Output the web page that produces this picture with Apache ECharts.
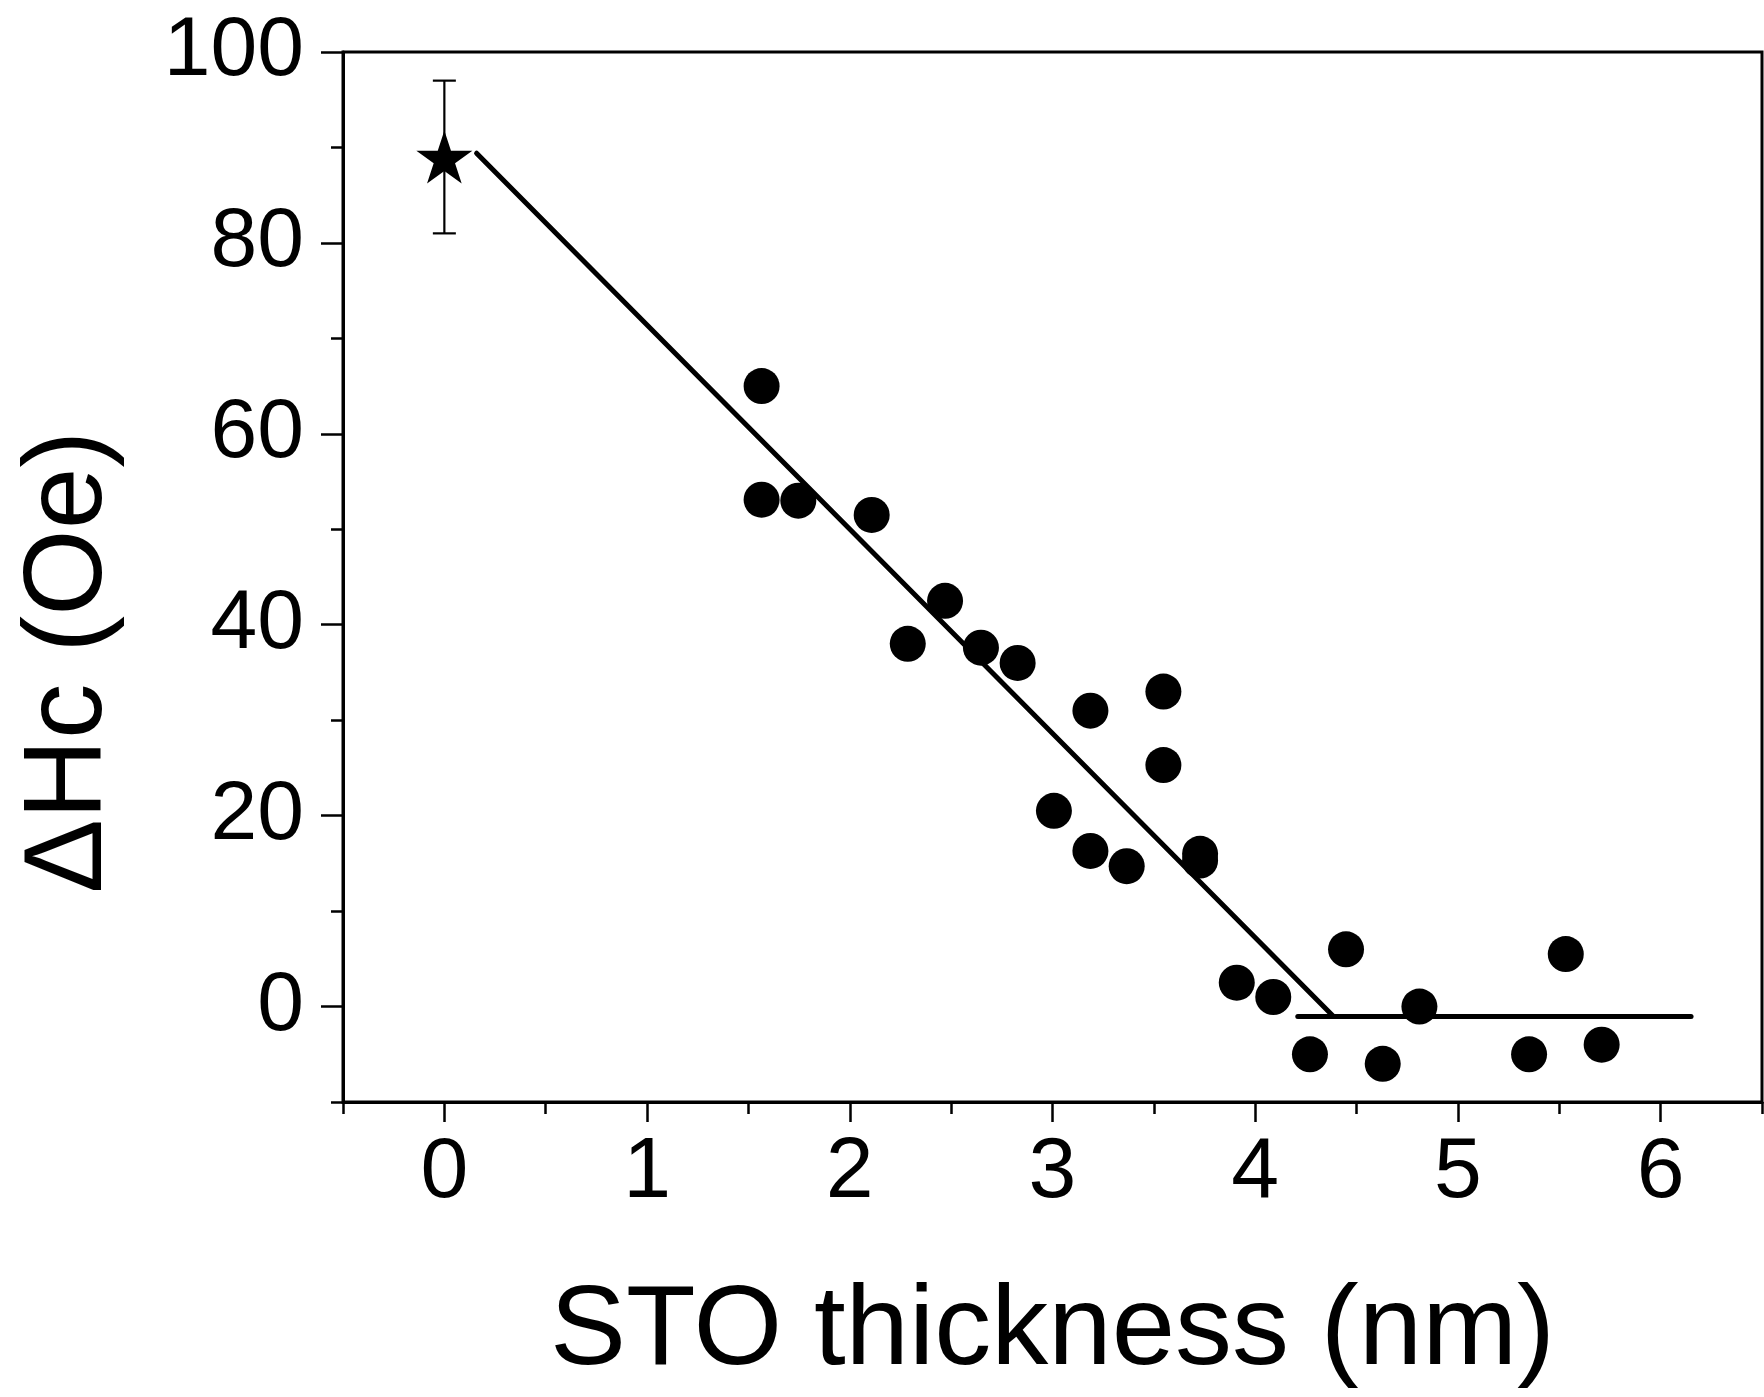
<!DOCTYPE html>
<html>
<head>
<meta charset="utf-8">
<script src="https://cdn.jsdelivr.net/npm/echarts@6/dist/echarts.min.js"></script>
<style>
html,body{margin:0;padding:0;background:#fff;}
#chart{width:1764px;height:1397px;}
</style>
</head>
<body>
<div id="chart"></div>
<script>
// ---- data ----
var thickness = [1.565, 1.565, 1.746, 2.108, 2.286, 2.470, 2.647, 2.828, 3.007, 3.187, 3.187, 3.366, 3.547, 3.547, 3.728, 3.728, 3.909, 4.089, 4.270, 4.448, 4.629, 4.810, 5.351, 5.532, 5.709];
var deltaHc   = [65.0, 53.1, 53.0, 51.5, 38.0, 42.5, 37.6, 36.0, 20.5, 31.0, 16.3, 14.7, 33.0, 25.3, 16.0, 15.3, 2.5, 1.0, -5.0, 6.0, -6.0, 0.0, -5.0, 5.5, -4.0];
var starX = [0];
var starY = [89];
var starErr = [8];
var fitX = [0.159, 4.384];
var fitY = [89.4, -1.0];
var flatX = [4.21, 6.15];
var flatY = [-1.05, -1.05];
var xMajorTicks = [0, 1, 2, 3, 4, 5, 6];
var xMinorTicks = [-0.5, 0.5, 1.5, 2.5, 3.5, 4.5, 5.5, 6.5];
var yMajorTicks = [0, 20, 40, 60, 80, 100];
var yMinorTicks = [-10, 10, 30, 50, 70, 90];
var xTitle = 'STO thickness (nm)';
var yTitle = '\u0394Hc (Oe)';

var FONT = '"Liberation Sans", Arial, Helvetica, sans-serif';
function zip(a, b) { return a.map(function (v, i) { return [v, b[i]]; }); }

var chart = echarts.init(document.getElementById('chart'), null, {renderer: 'canvas'});
var starPath = 'path://M0,-1 L0.2245,-0.309 L0.951,-0.309 L0.363,0.118 L0.588,0.809 L0,0.382 L-0.588,0.809 L-0.363,0.118 L-0.951,-0.309 L-0.2245,-0.309 Z';

var axisLineStyle = {color: '#000', width: 3};
var option = {
  animation: false,
  backgroundColor: '#fff',
  grid: {
    left: 343, right: 2, top: 52, bottom: 295,
    show: true, borderColor: '#000', borderWidth: 3, backgroundColor: 'transparent',
    containLabel: false, outerBoundsMode: 'none'
  },
  xAxis: [
    {
      type: 'value', min: -0.5, max: 6.5, position: 'bottom',
      axisLine: {show: true, onZero: false, lineStyle: axisLineStyle},
      axisTick: {show: true, customValues: xMajorTicks, length: 20, lineStyle: {color: '#000', width: 2.5}},
      axisLabel: {show: true, customValues: xMajorTicks, margin: 28, color: '#000', fontSize: 86, fontFamily: FONT},
      splitLine: {show: false},
      name: xTitle, nameLocation: 'middle', nameGap: 174,
      nameTextStyle: {color: '#000', fontSize: 114, fontFamily: FONT}
    },
    {
      type: 'value', min: -0.5, max: 6.5, position: 'bottom',
      axisLine: {show: false, onZero: false},
      axisTick: {show: true, customValues: xMinorTicks, length: 12, lineStyle: {color: '#000', width: 2.5}},
      axisLabel: {show: false},
      splitLine: {show: false}
    }
  ],
  yAxis: [
    {
      type: 'value', min: -10, max: 100, position: 'left',
      axisLine: {show: true, onZero: false, lineStyle: axisLineStyle},
      axisTick: {show: true, customValues: yMajorTicks, length: 22, lineStyle: {color: '#000', width: 2.5}},
      axisLabel: {show: true, customValues: yMajorTicks, margin: 39, color: '#000', fontSize: 84, fontFamily: FONT},
      splitLine: {show: false}
    },
    {
      type: 'value', min: -10, max: 100, position: 'left',
      axisLine: {show: false, onZero: false},
      axisTick: {show: true, customValues: yMinorTicks, length: 12, lineStyle: {color: '#000', width: 2.5}},
      axisLabel: {show: false},
      splitLine: {show: false}
    }
  ],
  graphic: [
    {
      type: 'text', x: 70, y: 662, rotation: Math.PI / 2,
      style: {text: yTitle, fill: '#000', font: '111px ' + FONT, align: 'center', verticalAlign: 'middle'}
    }
  ],
  series: [
    {
      type: 'line', xAxisIndex: 0, yAxisIndex: 0,
      data: zip(fitX, fitY), symbol: 'none',
      lineStyle: {color: '#000', width: 5, cap: 'round'}, z: 2
    },
    {
      type: 'line', xAxisIndex: 0, yAxisIndex: 0,
      data: zip(flatX, flatY), symbol: 'none',
      lineStyle: {color: '#000', width: 5, cap: 'round'}, z: 2
    },
    {
      type: 'custom', xAxisIndex: 0, yAxisIndex: 0,
      data: starX.map(function (x, i) { return [x, starY[i], starErr[i]]; }),
      renderItem: function (params, api) {
        var x = api.value(0), y = api.value(1), e = api.value(2);
        var top = api.coord([x, y + e]);
        var bot = api.coord([x, y - e]);
        var hw = 11.5;
        var st = {stroke: '#000', lineWidth: 2.2};
        return {
          type: 'group',
          children: [
            {type: 'line', shape: {x1: top[0], y1: top[1], x2: bot[0], y2: bot[1]}, style: st},
            {type: 'line', shape: {x1: top[0] - hw, y1: top[1], x2: top[0] + hw, y2: top[1]}, style: st},
            {type: 'line', shape: {x1: bot[0] - hw, y1: bot[1], x2: bot[0] + hw, y2: bot[1]}, style: st}
          ]
        };
      },
      z: 3
    },
    {
      type: 'scatter', xAxisIndex: 0, yAxisIndex: 0,
      data: zip(starX, starY), symbol: starPath, symbolSize: [56, 53],
      itemStyle: {color: '#000', opacity: 1}, z: 4
    },
    {
      type: 'scatter', xAxisIndex: 0, yAxisIndex: 0,
      data: zip(thickness, deltaHc), symbol: 'circle', symbolSize: 36,
      itemStyle: {color: '#000', opacity: 1}, z: 5
    }
  ]
};
chart.setOption(option);
</script>
</body>
</html>
